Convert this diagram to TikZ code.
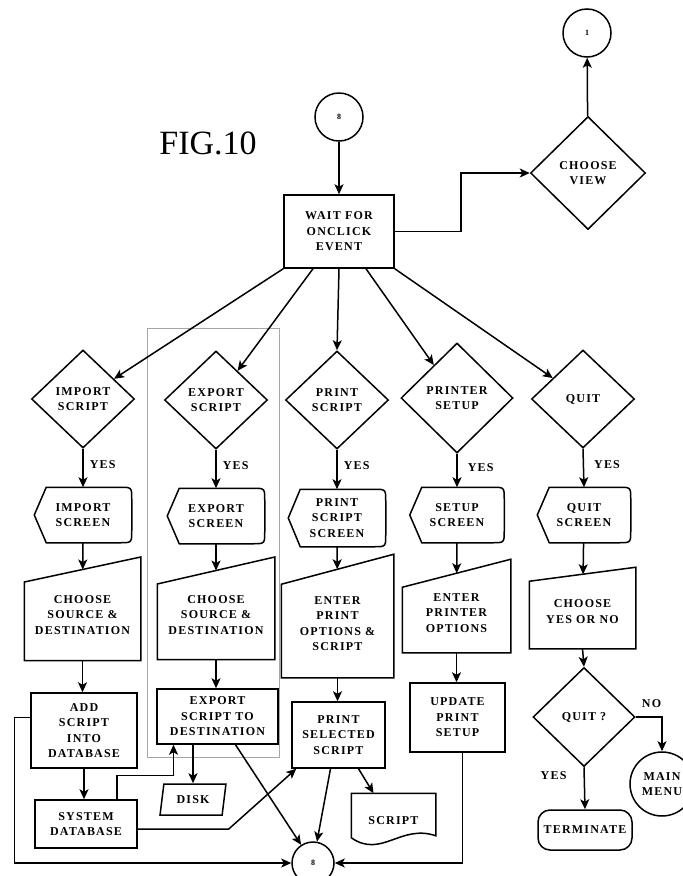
\documentclass[tikz,border=0pt]{standalone}
\usepackage{fontspec}
\setmainfont{Liberation Serif}[LetterSpace=10]
\newfontfamily\figfont{Liberation Serif}
\usetikzlibrary{shapes.geometric,arrows.meta}

\begin{document}
\begin{tikzpicture}[x=1pt,y=-1pt,line width=1.5pt,
  >={Stealth[length=10pt,width=9pt,inset=2.5pt]},
  every node/.style={font=\fontsize{12}{15.5}\selectfont\bfseries,align=center,inner sep=0pt},
  box/.style={draw,rectangle},
  choice/.style={draw,diamond,minimum width=103pt,minimum height=98pt},
  screen/.style={minimum width=96pt,minimum height=54pt},
  manual/.style={rectangle},
  connector/.style={draw,circle,minimum size=48pt,font=\fontsize{8}{9}\selectfont\bfseries}]
\path[use as bounding box] (0,0) rectangle (683,876);
% export group frame
\draw[gray!70,line width=0.6pt] (147,328) rectangle (279,757);
\node[connector] (topconn) at (339,117) {8};
\node[connector] (viewconn) at (587,33) {1};
\node[font=\figfont\fontsize{34}{40}\selectfont] (fig) at (208,143) {FIG.10};
\node[box,minimum width=110pt,minimum height=73pt] (wait) at (339,231.5) {WAIT FOR\\ONCLICK\\EVENT};
\node[choice,minimum width=115pt,minimum height=113pt] (view) at (588,173) {CHOOSE\\VIEW};
% choices
\node[choice] (imp) at (83,399) {IMPORT\\SCRIPT};
\node[choice] (exp) at (216,400) {EXPORT\\SCRIPT};
\node[choice] (prt) at (337,400) {PRINT\\SCRIPT};
\node[choice,minimum width=112pt,minimum height=110pt] (setup) at (457,398) {PRINTER\\SETUP};
\node[choice] (quit) at (583,399) {QUIT};
% screens
\node[screen] (impscr) at (83,515) {IMPORT\\SCREEN};
\node[screen] (expscr) at (216,516) {EXPORT\\SCREEN};
\node[screen,minimum height=56pt] (prtscr) at (337,518) {PRINT\\SCRIPT\\SCREEN};
\node[screen,minimum width=93pt] (setscr) at (457,515) {SETUP\\SCREEN};
\node[screen,minimum width=92pt] (quitscr) at (584,515) {QUIT\\SCREEN};
% manual input
\node[manual,minimum width=115pt,minimum height=89.5pt] (impsel) at (82.5,615) {CHOOSE\\SOURCE \&\\DESTINATION};
\node[manual,minimum width=116pt,minimum height=87.5pt] (expsel) at (216,615) {CHOOSE\\SOURCE \&\\DESTINATION};
\node[manual,minimum width=111pt,minimum height=107pt] (prtsel) at (337.5,623.5) {ENTER\\PRINT\\OPTIONS \&\\SCRIPT};
\node[manual,minimum width=107pt,minimum height=78pt] (setsel) at (456.5,613) {ENTER\\PRINTER\\OPTIONS};
\node[manual,minimum width=105pt,minimum height=73pt] (quitsel) at (582.5,611.5) {CHOOSE\\YES OR NO};
% processes
\node[box,minimum width=106pt,minimum height=75pt] (addb) at (84,730.5) {ADD\\SCRIPT\\INTO\\DATABASE};
\node[box,minimum width=121pt,minimum height=55pt] (expdst) at (217.5,716.5) {EXPORT\\SCRIPT TO\\DESTINATION};
\node[box,minimum width=93pt,minimum height=66pt] (prtdo) at (338.5,735) {PRINT\\SELECTED\\SCRIPT};
\node[box,minimum width=95pt,minimum height=69pt] (upd) at (457.5,717.5) {UPDATE\\PRINT\\SETUP};
\node[box,minimum width=102pt,minimum height=48pt] (sysdb) at (86,824) {SYSTEM\\DATABASE};
\node[draw,trapezium,trapezium left angle=75,trapezium right angle=105,trapezium stretches,minimum width=66pt,minimum height=31pt] (disk) at (193,799.5) {DISK};
\node[minimum width=83pt,minimum height=54pt] (doc) at (393.5,821) {SCRIPT};
\node[connector,minimum size=42pt] (endconn) at (313,863) {8};
\node[choice,minimum width=102pt,minimum height=99pt] (again) at (584,717) {QUIT ?};
\node[box,rounded corners=12pt,minimum width=94pt,minimum height=40pt] (term) at (585,830) {TERMINATE};
\node[draw,circle,minimum size=64pt] (menu) at (662,784) {MAIN\\MENU};
% outlines
\foreach \n in {impscr,expscr,prtscr,setscr,quitscr}
  \draw (\n.west) -- ([xshift=12pt]\n.north west) -- ([xshift=-12pt]\n.north east) .. controls (\n.north east) .. ([yshift=-12pt]\n.north east) -- ([yshift=12pt]\n.south east) .. controls (\n.south east) .. ([xshift=-12pt]\n.south east) -- ([xshift=12pt]\n.south west) -- cycle;
\foreach \n/\s in {impsel/12.5,expsel/13.5,prtsel/15,setsel/14,quitsel/7}
  \draw ([yshift=-\s pt]\n.north west) -- ([yshift=\s pt]\n.north east) -- (\n.south east) -- (\n.south west) -- cycle;
\draw (doc.north west) -- ([yshift=11pt]doc.south west) .. controls ([xshift=30pt,yshift=-10pt]doc.south west) and ([xshift=-35pt,yshift=25pt]doc.south east) .. ([yshift=13pt]doc.south east) -- (doc.north east) -- cycle;
% top
\draw[->] (topconn) -- (wait);
\draw[->] (wait.east) -- ++(66,0) |- (view.west);
\draw[->] (view) -- (viewconn);
\draw[->] (wait.south west) -- (imp);
\draw[->] ([xshift=-26pt]wait.south) -- (exp);
\draw[->] (wait.south) -- (prt.north);
\draw[->] ([xshift=27pt]wait.south) -- (setup);
\draw[->] (wait.south east) -- (quit);
% columns
\draw[->] (imp.south) -- node[pos=0.4,right=6pt]{YES} (impscr.north);
\draw[->] (exp.south) -- node[pos=0.4,right=6pt]{YES} (expscr.north);
\draw[->] (prt.south) -- node[pos=0.4,right=6pt]{YES} (prtscr.north);
\draw[->] (setup.south) -- node[pos=0.4,right=10pt]{YES} (setscr.north);
\draw[->] (quit.south) -- node[pos=0.4,right=10pt]{YES} (quitscr.north);
\draw[->] (impscr) -- (impsel);
\draw[->] (expscr) -- (expsel);
\draw[->] (prtscr) -- (prtsel);
\draw[->] (setscr) -- (setsel);
\draw[->] (quitscr) -- (quitsel);
\draw[->] (impsel.south) -- (impsel.south |- addb.north);
\draw[->] (expsel.south) -- (expsel.south |- expdst.north);
\draw[->] (prtsel.south) -- (prtsel.south |- prtdo.north);
\draw[->] (setsel.south) -- (setsel.south |- upd.north);
\draw[->] (quitsel.south) -- (again.north);
\draw[->] (addb.south) -- (addb.south |- sysdb.north);
% bottom
\draw[->] (disk.north |- expdst.south) -- (disk.north);
\draw[->] ([xshift=18pt]expdst.south) -- (endconn);
\draw[->] ([xshift=-8pt]prtdo.south) -- (endconn);
\draw[->] ([xshift=20pt]prtdo.south) -- ([xshift=-20pt]doc.north);
\draw[->] ([yshift=-5pt]sysdb.east) -- ++(91,0) -- ([xshift=5pt]prtdo.south west);
\draw[->] ([xshift=31pt]sysdb.north) -- ++(0,-24) -| ([xshift=-44pt]expdst.south);
\draw[->] ([yshift=13pt]addb.west) -- ++(-16,0) |- (endconn.west);
\draw[->] ([xshift=5pt]upd.south) |- (endconn.east);
\draw[->] (again.south) -- node[pos=0.2,left=17pt]{YES} (term.north);
\draw[->] (again.east) -| node[pos=0.3,above=9pt]{NO} (menu.north);
\end{tikzpicture}
\end{document}
